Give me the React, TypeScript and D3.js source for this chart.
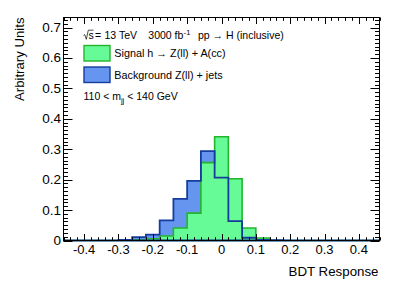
import React from "react";
import * as d3 from "d3";

const binEdgesStart = -0.46;
const binWidth = 0.04;
const nBins = 23;
// unit-normalised histograms, one value per bin (bin 0 = [-0.46,-0.42])
const signalValues = [0, 0, 0, 0, 0, 0.002, 0.006, 0.015, 0.041, 0.09, 0.256, 0.341, 0.203, 0.041, 0.008, 0.001, 0, 0, 0, 0, 0, 0, 0];
const backgroundValues = [0, 0, 0, 0, 0.002, 0.011, 0.019, 0.066, 0.137, 0.196, 0.294, 0.207, 0.064, 0.009, 0.002, 0.001, 0, 0, 0, 0, 0, 0, 0];
const xTickLabels = ["-0.4", "-0.3", "-0.2", "-0.1", "0", "0.1", "0.2", "0.3", "0.4"];
const yTickLabels = ["0", "0.1", "0.2", "0.3", "0.4", "0.5", "0.6", "0.7"];

const FONT = "'Liberation Sans', Arial, Helvetica, sans-serif";
const W = 399, H = 286;
const L = 63.5, R = 379.5, T = 17.5, B = 240.5;

const sigFill = "#66fb96";
const sigLine = "#24b52c";
const bkgFill = "#6595ee";
const bkgLine = "#153d9d";

export default function App() {
  const x = d3.scaleLinear().domain([-0.46, 0.46]).range([L, R]);
  const y = d3.scaleLinear().domain([0, 0.733]).range([B, T]);

  const toPts = (vals: number[]) => {
    const pts = vals.map((v, i) => [binEdgesStart + i * binWidth, v] as [number, number]);
    pts.push([binEdgesStart + nBins * binWidth, vals[vals.length - 1]]);
    return pts;
  };
  const area = d3
    .area<[number, number]>()
    .x((d) => x(d[0]))
    .y0(y(0))
    .y1((d) => y(d[1]))
    .curve(d3.curveStepAfter);
  const sigPath = area(toPts(signalValues)) || "";
  const bkgPath = area(toPts(backgroundValues)) || "";

  const xTicks: { v: number; major: boolean }[] = [];
  for (let k = -23; k <= 23; k++) {
    const v = k * 0.02;
    if (Math.abs(v) > 0.4601) continue;
    xTicks.push({ v, major: k % 5 === 0 });
  }
  const yTicks: { v: number; major: boolean }[] = [];
  for (let k = 0; k * 0.0125 <= 0.733; k++) {
    yTicks.push({ v: k * 0.0125, major: k % 8 === 0 });
  }

  return (
    <svg width={W} height={H} style={{ position: "absolute", left: 0, top: 0, background: "#fff" }} fontFamily={FONT}>
      <rect x={0} y={0} width={W} height={H} fill="#fff" />
      {/* histograms */}
      <path d={bkgPath} fill={bkgFill} stroke="none" />
      <path d={sigPath} fill={sigFill} stroke={sigLine} strokeWidth={1.6} />
      <path d={bkgPath} fill="none" stroke={bkgLine} strokeWidth={1.8} />

      {/* frame */}
      <rect x={L} y={T} width={R - L} height={B - T} fill="none" stroke="#000" strokeWidth={1} />
      {xTicks.map((t, i) => {
        const len = t.major ? 6.5 : 3.3;
        const xx = Math.round(x(t.v)) + 0.5;
        return (
          <g key={"xt" + i}>
            <line x1={xx} x2={xx} y1={B} y2={B - len} stroke="#000" strokeWidth={1} />
            <line x1={xx} x2={xx} y1={T} y2={T + len} stroke="#000" strokeWidth={1} />
          </g>
        );
      })}
      {yTicks.map((t, i) => {
        const len = t.major ? 9 : 4.5;
        const yy = Math.round(y(t.v)) + 0.5;
        return (
          <g key={"yt" + i}>
            <line x1={L} x2={L + len} y1={yy} y2={yy} stroke="#000" strokeWidth={1} />
            <line x1={R} x2={R - len} y1={yy} y2={yy} stroke="#000" strokeWidth={1} />
          </g>
        );
      })}
      {xTickLabels.map((s) => (
        <text key={"xl" + s} x={x(+s)} y={254} fontSize={13} textAnchor="middle" fill="#000">
          {s}
        </text>
      ))}
      {yTickLabels.map((s) => (
        <text key={"yl" + s} x={61} y={y(+s) + 4.5} fontSize={13.5} textAnchor="end" fill="#000">
          {s}
        </text>
      ))}
      <text x={378.5} y={276} fontSize={13.3} textAnchor="end" fill="#000">
        BDT Response
      </text>
      <text transform="translate(23.5,17.5) rotate(-90)" fontSize={13.2} textAnchor="end" fill="#000">
        Arbitrary Units
      </text>

      {/* legend */}
      <path d="M83.5,35.5 L84.8,34.6 L86.3,39.3 L88.3,30.2 L93.5,30.2" fill="none" stroke="#000" strokeWidth={0.7} />
      <text x={88.5} y={39.2} fontSize={10.5} fill="#000">s</text>
      <text x={95} y={39.2} fontSize={10.5} fill="#000">=</text>
      <text x={104.5} y={39.2} fontSize={10.5} fill="#000">13 TeV</text>
      <text x={148.3} y={39.2} fontSize={10.5} fill="#000">
        3000 fb
        <tspan fontSize={7.5} dy={-4.5} dx={0.5}>-1</tspan>
      </text>
      <text x={198} y={39.2} fontSize={10.5} fill="#000">pp → H (inclusive)</text>

      <rect x={84} y={45.5} width={26} height={15.5} fill={sigFill} stroke={sigLine} strokeWidth={1.4} />
      <text x={114.3} y={57} fontSize={10.8} fill="#000">Signal h → Z(ll) + A(cc)</text>
      <rect x={84} y={67} width={26} height={15.5} fill={bkgFill} stroke={bkgLine} strokeWidth={1.4} />
      <text x={114.3} y={78.6} fontSize={10.8} fill="#000">Background Z(ll) + jets</text>

      <text x={83.5} y={100} fontSize={10.5} fill="#000">
        110 &lt; m
        <tspan fontSize={7.5} dy={2.5}>jj</tspan>
        <tspan dy={-2.5}> &lt; 140 GeV</tspan>
      </text>
    </svg>
  );
}
